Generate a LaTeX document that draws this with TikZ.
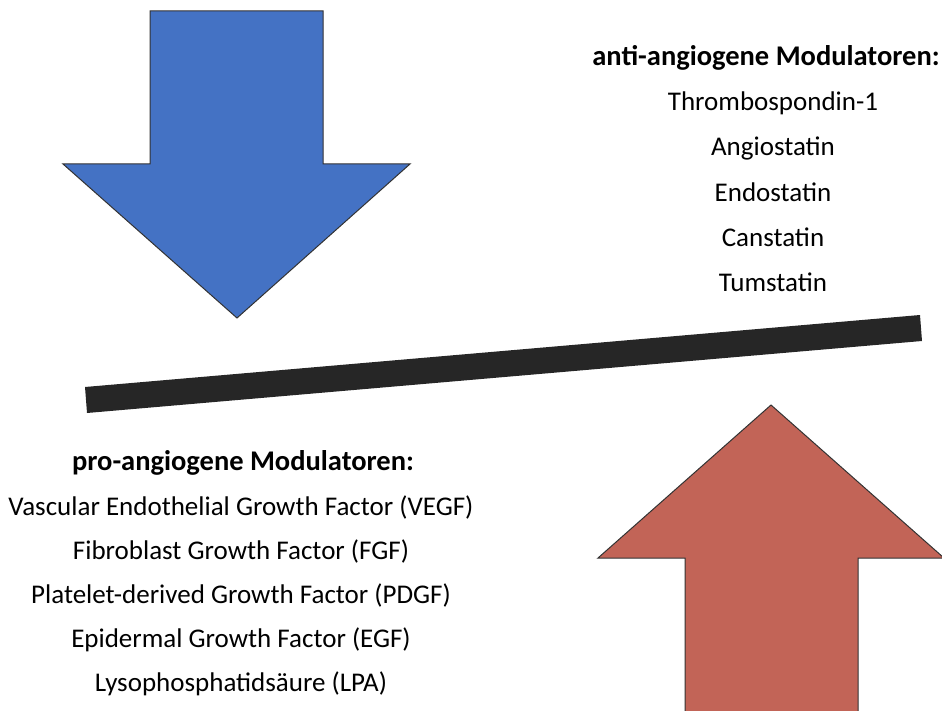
\documentclass[tikz,border=0pt]{standalone}
\usepackage{fontspec}
\setmainfont{Carlito}
\usetikzlibrary{positioning}
\definecolor{arrowblue}{HTML}{4472C4}
\definecolor{arrowred}{HTML}{C26457}
\definecolor{barblack}{HTML}{262626}
\begin{document}
\begin{tikzpicture}[
        x=1pt, y=-1pt,
        bigarrow/.style={draw=black!80, line width=1pt, line join=miter},
        head/.style={font=\fontsize{28.5}{33}\selectfont\bfseries, inner sep=0pt},
        item/.style={font=\fontsize{27}{32}\selectfont, inner sep=0pt},
    ]
    \useasboundingbox (0,0) rectangle (942,711);
    % blue arrow down
    \draw[bigarrow, fill=arrowblue] (150,11) -- (323,11) -- (323,164) -- (410,164)
        -- (237,318) -- (63,164) -- (150,164) -- cycle;
    % red arrow up
    \draw[bigarrow, fill=arrowred] (685,715) -- (685,558) -- (598,558) -- (771,405)
        -- (944,558) -- (858,558) -- (858,715);
    % balance bar
    \fill[barblack] (85,387) -- (920,315) -- (922,341) -- (87,413) -- cycle;
    % anti-angiogene list
    \node[head] (anti) at (766,58) {anti-angiogene Modulatoren:};
    \node[item] (thbs) at (773,103) {Thrombospondin-1};
    \node[item] (angio) at (773,148) {Angiostatin};
    \node[item] (endo) at (773,192) {Endostatin};
    \node[item] (can) at (773,237) {Canstatin};
    \node[item] (tum) at (773,282) {Tumstatin};
    % pro-angiogene list
    \node[head] (pro) at (243,463) {pro-angiogene Modulatoren:};
    \node[item] (vegf) at (241,507) {Vascular Endothelial Growth Factor (VEGF)};
    \node[item] (fgf) at (241,551) {Fibroblast Growth Factor (FGF)};
    \node[item] (pdgf) at (241,595) {Platelet-derived Growth Factor (PDGF)};
    \node[item] (egf) at (241,640) {Epidermal Growth Factor (EGF)};
    \node[item] (lpa) at (241,684) {Lysophosphatidsäure (LPA)};
\end{tikzpicture}
\end{document}
